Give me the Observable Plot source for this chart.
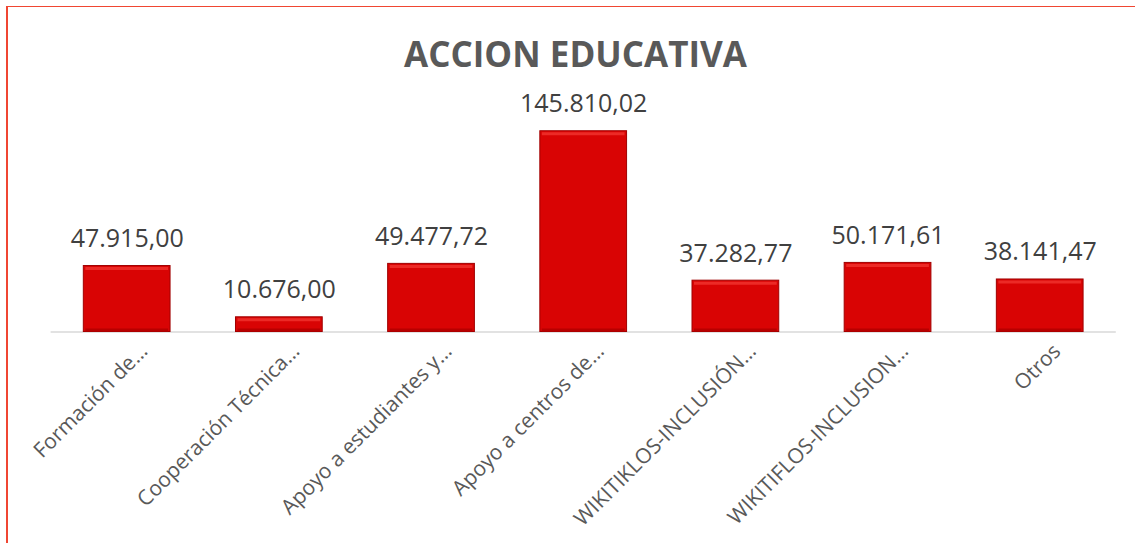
<!DOCTYPE html>
<html>
<head>
<meta charset="utf-8">
<script src="https://cdn.jsdelivr.net/npm/d3@7"></script>
<script src="https://cdn.jsdelivr.net/npm/@observablehq/plot@0.6"></script>
<style>
  html, body { margin: 0; padding: 0; background: #fff; }
  #wrap { position: relative; width: 1135px; height: 543px; overflow: hidden; background: #fff; font-family: "Open Sans", sans-serif; }
  #frame { position: absolute; left: 6px; top: 6px; width: 1300px; height: 700px; border-left: 2px solid #f04632; border-top: 1.5px solid #f04632; box-sizing: border-box; }
  #title { position: absolute; left: 8px; top: 36px; width: 1135px; text-align: center; font-size: 35px; line-height: 35px; font-weight: 700; color: #595959; }
  #chart { position: absolute; left: 0; top: 0; }
</style>
</head>
<body>
<div id="wrap">
  <div id="frame"></div>
  <div id="title">ACCION EDUCATIVA</div>
  <div id="chart"></div>
</div>
<script>
const categories = ["Formación de…", "Cooperación Técnica…", "Apoyo a estudiantes y…", "Apoyo a centros de…", "WIKITIKLOS-INCLUSIÓN…", "WIKITIFLOS-INCLUSION…", "Otros"];
const values = [47915.00, 10676.00, 49477.72, 145810.02, 37282.77, 50171.61, 38141.47];
const valueLabels = ["47.915,00", "10.676,00", "49.477,72", "145.810,02", "37.282,77", "50.171,61", "38.141,47"];

const data = categories.map((c, i) => ({cat: c, value: values[i], label: valueLabels[i]}));

const chart = Plot.plot({
  width: 1135,
  height: 543,
  marginLeft: 50.6,
  marginRight: 19.2,
  marginTop: 111.2,
  marginBottom: 211.5,
  x: {domain: categories, paddingInner: 0.43, paddingOuter: 0.215, round: false, axis: null},
  y: {domain: [0, 160000], axis: null},
  style: {fontFamily: "Open Sans, sans-serif", background: "transparent", overflow: "visible"},
  marks: [
    Plot.ruleY([0], {stroke: "#d9d9d9", strokeWidth: 1.5}),
    Plot.barY(data, {x: "cat", y: "value", fill: "#d90404", stroke: "#a00000", strokeWidth: 1}),
    Plot.tickY(data, {x: "cat", y: "value", stroke: "#ec2a26", strokeWidth: 3, dy: 2.5, insetLeft: 2, insetRight: 2}),
    Plot.tickY(data, {x: "cat", y: 0, stroke: "#b80000", strokeWidth: 3, dy: -2, insetLeft: 2, insetRight: 2}),
    Plot.text(data, {x: "cat", y: "value", text: "label", dy: -27, fontSize: 25, fill: "#404040"}),
    Plot.text(categories, {x: d => d, frameAnchor: "bottom", text: d => d, rotate: -45, textAnchor: "end", lineAnchor: "top", dx: 11, dy: 10, fontSize: 21, fill: "#595959"})
  ]
});
document.getElementById("chart").appendChild(chart);
</script>
</body>
</html>
